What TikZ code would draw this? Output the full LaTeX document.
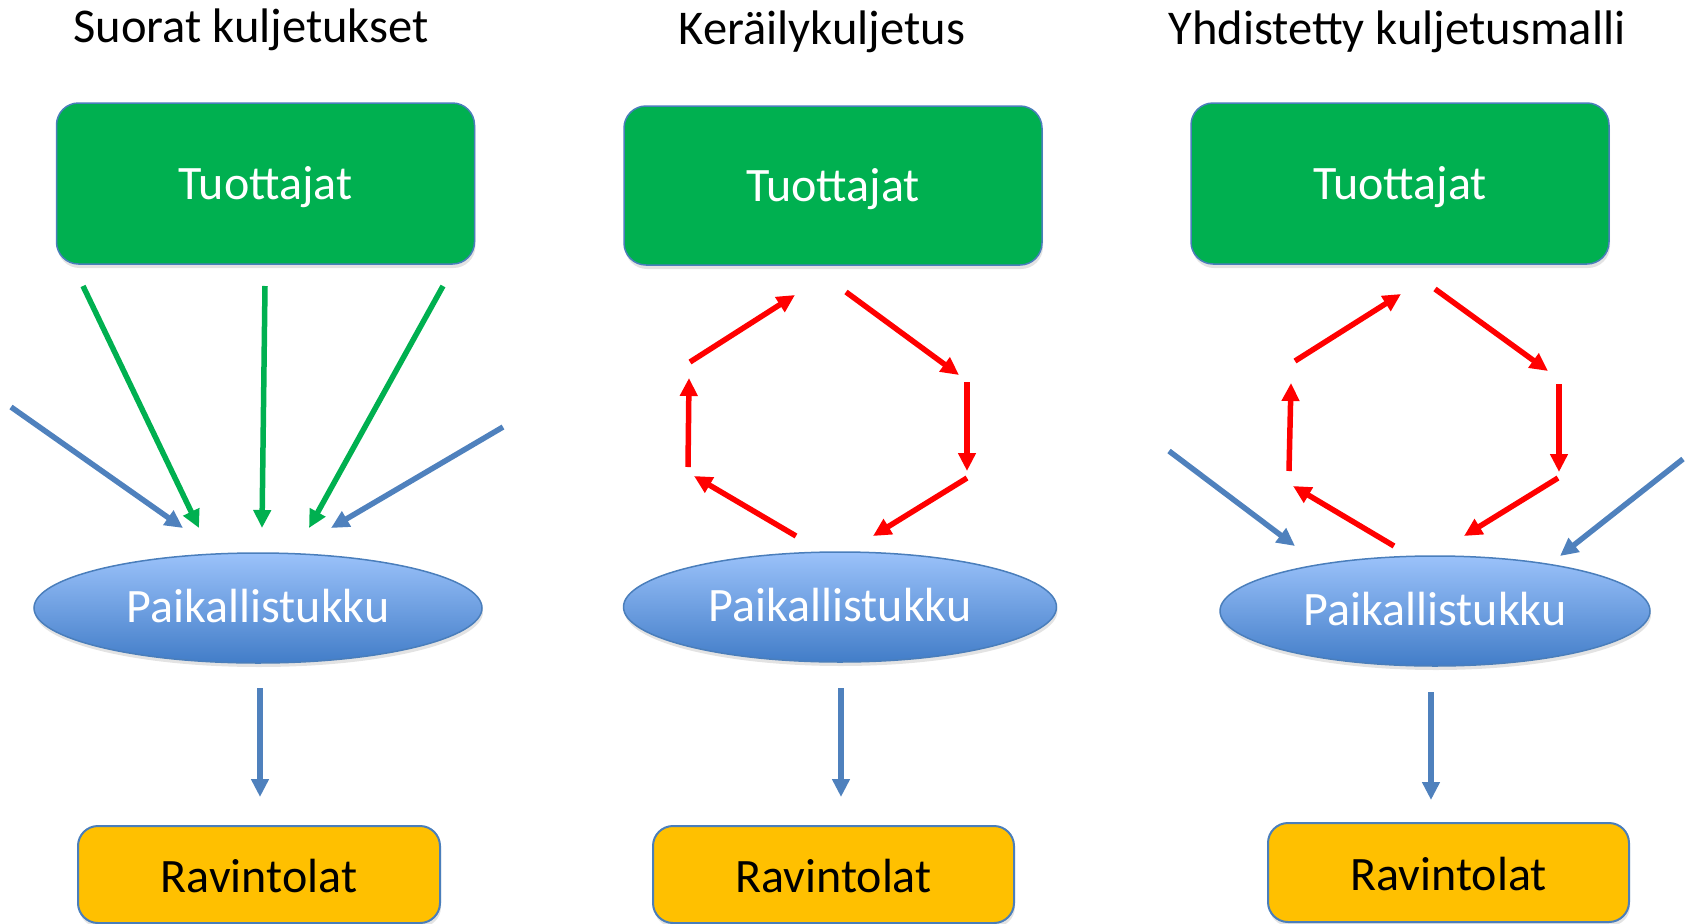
\documentclass[tikz,border=0pt]{standalone}
\usepackage{fontspec}
\setmainfont{Carlito}
\usetikzlibrary{arrows.meta,shapes.geometric,shadows}
\definecolor{grn}{HTML}{00B050}
\definecolor{bluarr}{HTML}{4F81BD}
\definecolor{edgeblue}{HTML}{4A7EBB}
\definecolor{gold}{HTML}{FFC000}
\definecolor{redarr}{HTML}{FF0000}
\definecolor{elltop}{RGB}{155,194,250}
\definecolor{ellbot}{RGB}{66,125,200}
\begin{document}
\begin{tikzpicture}[x=1pt,y=-1pt,
  titletext/.style={font=\fontsize{48.5}{58}\selectfont, anchor=base, inner sep=0pt},
  shad/.style={drop shadow={shadow xshift=1pt, shadow yshift=-4pt, opacity=0.22}},
  prodbox/.style={shad, draw=edgeblue, line width=1.5pt, fill=grn, rounded corners=22pt,
    text=white, font=\fontsize{48}{57}\selectfont, text height=39pt, text depth=8pt,
    inner sep=0pt, minimum width=418pt, minimum height=160pt},
  hub/.style={shad, ellipse, draw=edgeblue, line width=1.5pt, top color=elltop, bottom color=ellbot,
    text=white, font=\fontsize{48}{57}\selectfont, text height=33pt, text depth=4pt,
    inner sep=0pt, minimum height=110pt},
  restbox/.style={shad, draw=edgeblue, line width=2pt, fill=gold, rounded corners=20pt,
    text=black, font=\fontsize{48}{57}\selectfont, text height=35pt, text depth=0pt,
    inner sep=0pt, minimum width=361pt, minimum height=97pt},
  arr/.style={line width=5.5pt, -{Triangle[length=18pt,width=17pt]}},
  garr/.style={arr, draw=grn},
  barr/.style={arr, draw=bluarr},
  rarr/.style={arr, draw=redarr}
]
\useasboundingbox (0,0) rectangle (1690,924);

% titles
\node[titletext] (t1) at (251,42) {Suorat kuljetukset};
\node[titletext] (t2) at (822,44) {Keräilykuljetus};
\node[titletext] (t3) at (1397,44) {Yhdistetty kuljetusmalli};

% ---------- Panel 1 ----------
\node[prodbox, minimum height=161pt] (prod1) at (265.5,183.5) {Tuottajat};
\node[hub, minimum width=448pt] (hub1) at (258,608) {Paikallistukku};
\node[restbox, minimum width=362pt] (rest1) at (259,874.5) {Ravintolat};

\coordinate (p1g1s) at (83,286);  \coordinate (p1g1e) at (199,528);
\coordinate (p1g2s) at (265,286); \coordinate (p1g2e) at (262,528);
\coordinate (p1g3s) at (443,286); \coordinate (p1g3e) at (309,528);
\coordinate (p1b1s) at (11,407);  \coordinate (p1b1e) at (183,528);
\coordinate (p1b2s) at (503,427); \coordinate (p1b2e) at (331,528);
\coordinate (p1ds) at (260,688);  \coordinate (p1de) at (260,797);
\draw[garr] (p1g1s) -- (p1g1e);
\draw[garr] (p1g2s) -- (p1g2e);
\draw[garr] (p1g3s) -- (p1g3e);
\draw[barr] (p1b1s) -- (p1b1e);
\draw[barr] (p1b2s) -- (p1b2e);
\draw[barr] (p1ds) -- (p1de);

% ---------- Panel 2 ----------
\node[prodbox, minimum height=159pt] (prod2) at (833,185.5) {Tuottajat};
\node[hub, minimum width=433pt] (hub2) at (840,607) {Paikallistukku};
\node[restbox] (rest2) at (833.5,874.5) {Ravintolat};

\coordinate (p2r1s) at (690,362); \coordinate (p2r1e) at (795,295);
\coordinate (p2r2s) at (846,292); \coordinate (p2r2e) at (959,375);
\coordinate (p2r3s) at (967,382); \coordinate (p2r3e) at (967,471);
\coordinate (p2r4s) at (967,478); \coordinate (p2r4e) at (873,536);
\coordinate (p2r5s) at (796,536); \coordinate (p2r5e) at (694,476);
\coordinate (p2r6s) at (688,467); \coordinate (p2r6e) at (689,378);
\coordinate (p2ds) at (841,688);  \coordinate (p2de) at (841,797);
\draw[rarr] (p2r1s) -- (p2r1e);
\draw[rarr] (p2r2s) -- (p2r2e);
\draw[rarr] (p2r3s) -- (p2r3e);
\draw[rarr] (p2r4s) -- (p2r4e);
\draw[rarr] (p2r5s) -- (p2r5e);
\draw[rarr] (p2r6s) -- (p2r6e);
\draw[barr] (p2ds) -- (p2de);

% ---------- Panel 3 ----------
\node[prodbox, minimum height=161pt] (prod3) at (1400,183.5) {Tuottajat};
\node[hub, minimum width=430pt] (hub3) at (1435,611) {Paikallistukku};
\node[restbox, minimum height=99pt] (rest3) at (1448.5,872.5) {Ravintolat};

\coordinate (p3r1s) at (1295,361); \coordinate (p3r1e) at (1401,294);
\coordinate (p3r2s) at (1435,289); \coordinate (p3r2e) at (1548,371);
\coordinate (p3r3s) at (1559,384); \coordinate (p3r3e) at (1559,472);
\coordinate (p3r4s) at (1558,478); \coordinate (p3r4e) at (1464,536);
\coordinate (p3r5s) at (1394,546); \coordinate (p3r5e) at (1293,486);
\coordinate (p3r6s) at (1289,471); \coordinate (p3r6e) at (1291,383);
\coordinate (p3b1s) at (1169,451); \coordinate (p3b1e) at (1295,546);
\coordinate (p3b2s) at (1683,459); \coordinate (p3b2e) at (1560,556);
\coordinate (p3ds) at (1431,692);  \coordinate (p3de) at (1431,800);
\draw[rarr] (p3r1s) -- (p3r1e);
\draw[rarr] (p3r2s) -- (p3r2e);
\draw[rarr] (p3r3s) -- (p3r3e);
\draw[rarr] (p3r4s) -- (p3r4e);
\draw[rarr] (p3r5s) -- (p3r5e);
\draw[rarr] (p3r6s) -- (p3r6e);
\draw[barr] (p3b1s) -- (p3b1e);
\draw[barr] (p3b2s) -- (p3b2e);
\draw[barr] (p3ds) -- (p3de);
\end{tikzpicture}
\end{document}
